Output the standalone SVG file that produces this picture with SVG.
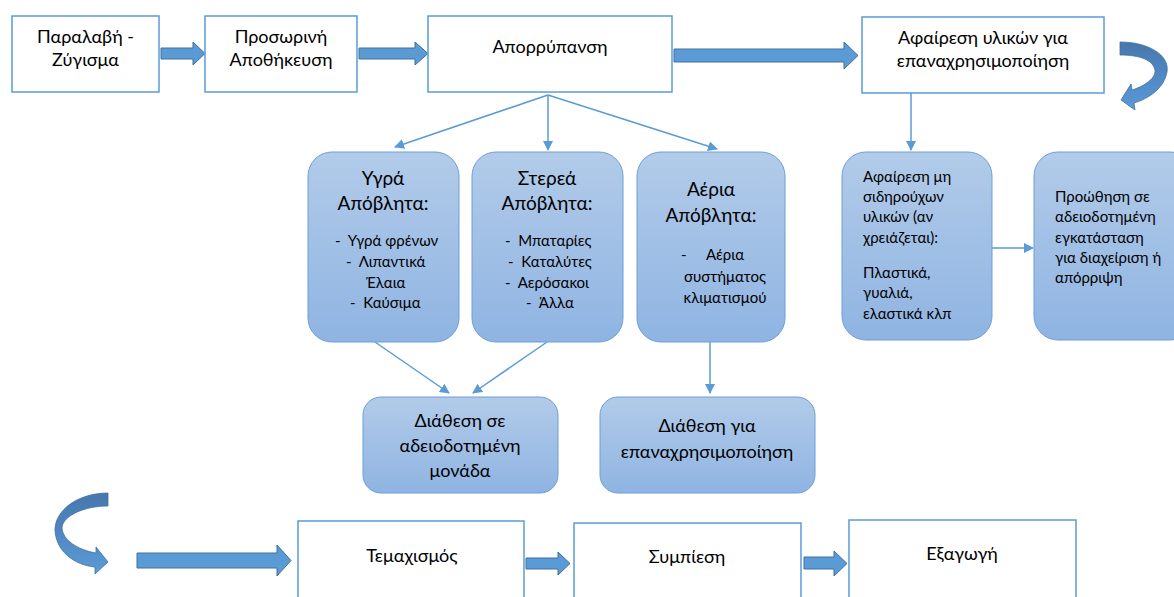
<svg xmlns="http://www.w3.org/2000/svg" width="1174" height="597" viewBox="0 0 1174 597">
<style>
.box{fill:#fff;stroke:#5b9bd5;stroke-width:1.5}
.rbox{fill:url(#g);stroke:#6d9fd6;stroke-width:1}
.blk{fill:#5b9bd5;stroke:#41719c;stroke-width:1}
.cur{fill:url(#cg);stroke:#41719c;stroke-width:0.8}
.ln{stroke:#5b9bd5;stroke-width:1.5;fill:none;marker-end:url(#ah)}
text{font-family:Lato,"Open Sans","Noto Sans",sans-serif;fill:#000;white-space:pre}
.t18{font-size:18px;text-anchor:middle}
.t15{font-size:15px}
.c{text-anchor:middle}
</style>
<defs>
<linearGradient id="g" x1="0" y1="0" x2="0" y2="1">
<stop offset="0" stop-color="#b2cbe9"/>
<stop offset="1" stop-color="#8fb4e2"/>
</linearGradient>
<linearGradient id="cg" x1="0" y1="0" x2="0" y2="1">
<stop offset="0" stop-color="#4677ad"/>
<stop offset="0.5" stop-color="#5088c4"/>
<stop offset="1" stop-color="#5b9bd5"/>
</linearGradient>
<marker id="ah" markerWidth="10" markerHeight="10" refX="9" refY="5" orient="auto" markerUnits="userSpaceOnUse">
<path d="M0,0 L10,5 L0,10 Z" fill="#5b9bd5"/>
</marker>
</defs>

<g id="connectors">
<polygon class="blk" points="161,48 193,48 193,42 205,53.5 193,65 193,59 161,59"/>
<polygon class="blk" points="359,48 415,48 415,42 428,53.5 415,65 415,59 359,59"/>
<polygon class="blk" points="674,49 844,49 844,42 858,55.5 844,69 844,62 674,62"/>
<polygon class="blk" points="137,553 277,553 277,545 291,560.5 277,576 277,568 137,568"/>
<polygon class="blk" points="526,558 558,558 558,552 570,563.5 558,575 558,569 526,569"/>
<polygon class="blk" points="804,557 834,557 834,551 847,563.5 834,576 834,569 804,569"/>
<path class="cur" d="M1120,42 C1148,42 1170,55 1167,72 C1164,88 1150,98 1134,103 L1135,110 L1121,100 L1131,84 L1132,90 C1145,86 1156,78 1155,70 C1153,60 1140,55 1120,55 Z"/>
<path class="cur" d="M108,493 L108,506 C85,506 64,515 62,527 C62,540 78,550 96,553 L96,547 L108,562 L95,574 L95,567 C75,565 56,552 55,530 C55,510 78,493 108,493 Z"/>
<line class="ln" x1="548" y1="95" x2="395" y2="147"/>
<line class="ln" x1="548" y1="95" x2="548" y2="150"/>
<line class="ln" x1="548" y1="95" x2="717" y2="149"/>
<line class="ln" x1="911" y1="93" x2="911" y2="150"/>
<line class="ln" x1="992" y1="248" x2="1033" y2="248"/>
<line class="ln" x1="375" y1="342" x2="449" y2="393"/>
<line class="ln" x1="547" y1="342" x2="473" y2="393"/>
<line class="ln" x1="710" y1="342" x2="710" y2="393"/>
</g>

<g id="n1">
<rect class="box" x="12" y="16" width="147" height="76"/>
<text class="t18" x="85.5" y="43">Παραλαβή -</text>
<text class="t18" x="85.5" y="66">Ζύγισμα</text>
</g>
<g id="n2">
<rect class="box" x="205" y="16" width="152" height="76"/>
<text class="t18" x="281" y="43">Προσωρινή</text>
<text class="t18" x="281" y="66">Αποθήκευση</text>
</g>
<g id="n3">
<rect class="box" x="428" y="16" width="244" height="76"/>
<text class="t18" x="550" y="53">Απορρύπανση</text>
</g>
<g id="n4">
<rect class="box" x="862" y="17" width="242" height="76"/>
<text class="t18" x="983" y="44">Αφαίρεση υλικών για</text>
<text class="t18" x="983" y="67">επαναχρησιμοποίηση</text>
</g>

<g id="n5">
<rect class="rbox" x="308" y="152" width="151" height="190" rx="24"/>
<text class="t18" x="383" y="185" style="font-size:19px">Υγρά</text>
<text class="t18" x="383" y="210" style="font-size:19px">Απόβλητα:</text>
<text class="t15" x="335" y="246">-  Υγρά φρένων</text>
<text class="t15" x="346" y="267">-  Λιπαντικά</text>
<text class="t15" x="366" y="288">Έλαια</text>
<text class="t15" x="350" y="308">-  Καύσιμα</text>
</g>
<g id="n6">
<rect class="rbox" x="472" y="152" width="151" height="190" rx="24"/>
<text class="t18" x="547" y="185" style="font-size:19px">Στερεά</text>
<text class="t18" x="547" y="210" style="font-size:19px">Απόβλητα:</text>
<text class="t15" x="505" y="246">-  Μπαταρίες</text>
<text class="t15" x="508" y="267">-  Καταλύτες</text>
<text class="t15" x="505" y="288">-  Αερόσακοι</text>
<text class="t15" x="526" y="308">-  Άλλα</text>
</g>
<g id="n7">
<rect class="rbox" x="637" y="152" width="148" height="190" rx="24"/>
<text class="t18" x="711" y="196" style="font-size:19px">Αέρια</text>
<text class="t18" x="711" y="222" style="font-size:19px">Απόβλητα:</text>
<text class="t15" x="681" y="260">-</text>
<text class="t15" x="706" y="260">Αέρια</text>
<text class="t15 c" x="725" y="282">συστήματος</text>
<text class="t15 c" x="725" y="303">κλιματισμού</text>
</g>
<g id="n8">
<rect class="rbox" x="842" y="152" width="150" height="188" rx="24"/>
<text class="t15" x="863" y="182">Αφαίρεση μη</text>
<text class="t15" x="863" y="202">σιδηρούχων</text>
<text class="t15" x="863" y="222">υλικών (αν</text>
<text class="t15" x="863" y="243">χρειάζεται):</text>
<text class="t15" x="863" y="278">Πλαστικά,</text>
<text class="t15" x="863" y="298">γυαλιά,</text>
<text class="t15" x="863" y="319">ελαστικά κλπ</text>
</g>
<g id="n9">
<rect class="rbox" x="1034" y="152" width="160" height="188" rx="24"/>
<text class="t15" x="1055" y="202">Προώθηση σε</text>
<text class="t15" x="1055" y="222">αδειοδοτημένη</text>
<text class="t15" x="1055" y="243">εγκατάσταση</text>
<text class="t15" x="1055" y="263">για διαχείριση ή</text>
<text class="t15" x="1055" y="283">απόρριψη</text>
</g>
<g id="n10">
<rect class="rbox" x="363" y="397" width="195" height="96" rx="18"/>
<text class="t18" x="460" y="427">Διάθεση σε</text>
<text class="t18" x="460" y="452">αδειοδοτημένη</text>
<text class="t18" x="460" y="477">μονάδα</text>
</g>
<g id="n11">
<rect class="rbox" x="600" y="397" width="215" height="96" rx="18"/>
<text class="t18" x="707" y="432">Διάθεση για</text>
<text class="t18" x="707" y="458">επαναχρησιμοποίηση</text>
</g>

<g id="n12">
<rect class="box" x="298" y="521" width="226" height="90"/>
<text class="t18" x="412" y="562">Τεμαχισμός</text>
</g>
<g id="n13">
<rect class="box" x="574" y="523" width="227" height="90"/>
<text class="t18" x="687" y="563">Συμπίεση</text>
</g>
<g id="n14">
<rect class="box" x="849" y="520" width="227" height="90"/>
<text class="t18" x="962" y="560">Εξαγωγή</text>
</g>
</svg>
